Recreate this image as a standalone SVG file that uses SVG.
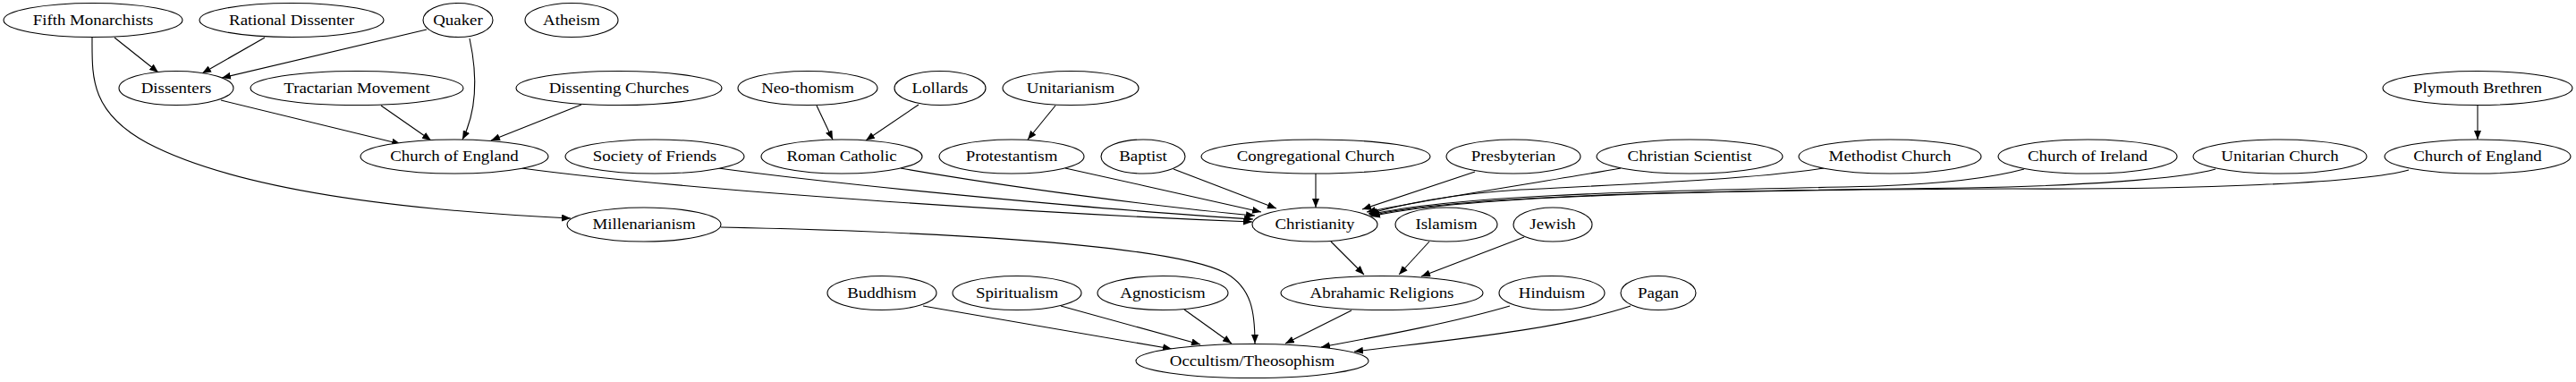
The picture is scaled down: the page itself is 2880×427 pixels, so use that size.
<svg xmlns="http://www.w3.org/2000/svg" width="2880" height="427" viewBox="0 0 2880 427">
<style>
.n ellipse{fill:#fff;stroke:#000;stroke-width:1.1}
.n text{font-family:"Liberation Serif","Times New Roman",serif;font-size:16px;text-anchor:middle;fill:#000}
.e path{fill:none;stroke:#000;stroke-width:1.1;marker-end:url(#ah)}
</style>
<defs>
<marker id="ah" markerUnits="userSpaceOnUse" markerWidth="11" markerHeight="8" refX="10" refY="4" orient="auto"><path d="M0,0 L10,4 L0,8 z" fill="#000"/></marker>
</defs>
<rect width="2880" height="427" fill="#fff"/>
<g class="e" id="edges">
<path d="M128,42 L177,81"/>
<path d="M296,42 L226,82"/>
<path d="M477,33 L248,87"/>
<path d="M525,43 C533,80 535,120 517,156"/>
<path d="M103,42 C103,85 100,125 165,160 C270,215 470,236 638,244"/>
<path d="M247,112 L448,161"/>
<path d="M426,118 L482,157"/>
<path d="M650,117 L549,157"/>
<path d="M913,118 L931,156"/>
<path d="M1027,117 L968,157"/>
<path d="M1180,118 L1149,156"/>
<path d="M2770,117 L2770,156"/>
<path d="M583,188 C760,212 1150,238 1400,248"/>
<path d="M803,188 C950,208 1250,236 1401,245"/>
<path d="M1007,188 C1120,208 1300,232 1403,241"/>
<path d="M1191,188 C1260,203 1360,226 1410,237"/>
<path d="M1312,189 L1427,233"/>
<path d="M1471,194 L1471,232"/>
<path d="M1649,192 L1523,234"/>
<path d="M1812,188 C1740,201 1600,222 1528,237"/>
<path d="M2039,188 C1960,200 1840,205 1700,212 C1620,217 1570,228 1530,239"/>
<path d="M2263,189 C2230,198 2180,205 2100,208 C1900,213 1640,215 1531,240"/>
<path d="M2477,189 C2440,200 2320,208 2200,210 C1950,213 1640,216 1532,241"/>
<path d="M2693,190 C2640,205 2450,212 2250,211 C1950,212 1640,217 1533,242"/>
<path d="M1488,270 L1525,307"/>
<path d="M1598,270 L1564,307"/>
<path d="M1704,265 L1589,309"/>
<path d="M806,254 C1000,258 1300,270 1370,305 C1400,322 1403,350 1403,384"/>
<path d="M1032,342 L1310,390"/>
<path d="M1186,342 L1342,385"/>
<path d="M1324,346 L1377,384"/>
<path d="M1511,347 L1437,384"/>
<path d="M1688,342 C1620,362 1530,378 1477,388"/>
<path d="M1823,342 C1740,370 1600,382 1514,393"/>
</g>
<g class="n" id="n_fifth"><ellipse cx="104" cy="22.5" rx="100" ry="19"/><text transform="translate(104,27.8) scale(1.18,1)">Fifth Monarchists</text></g>
<g class="n" id="n_rational"><ellipse cx="326" cy="22.5" rx="103" ry="19"/><text transform="translate(326,27.8) scale(1.18,1)">Rational Dissenter</text></g>
<g class="n" id="n_quaker"><ellipse cx="512" cy="22.5" rx="39" ry="19"/><text transform="translate(512,27.8) scale(1.18,1)">Quaker</text></g>
<g class="n" id="n_atheism"><ellipse cx="639" cy="22.5" rx="52" ry="19"/><text transform="translate(639,27.8) scale(1.18,1)">Atheism</text></g>
<g class="n" id="n_dissenters"><ellipse cx="197" cy="98.5" rx="64" ry="19"/><text transform="translate(197,103.8) scale(1.18,1)">Dissenters</text></g>
<g class="n" id="n_tractarian"><ellipse cx="399" cy="98.5" rx="119" ry="19"/><text transform="translate(399,103.8) scale(1.18,1)">Tractarian Movement</text></g>
<g class="n" id="n_dchurches"><ellipse cx="692" cy="98.5" rx="115" ry="19"/><text transform="translate(692,103.8) scale(1.18,1)">Dissenting Churches</text></g>
<g class="n" id="n_neothomism"><ellipse cx="903" cy="98.5" rx="78" ry="19"/><text transform="translate(903,103.8) scale(1.18,1)">Neo-thomism</text></g>
<g class="n" id="n_lollards"><ellipse cx="1051" cy="98.5" rx="51" ry="19"/><text transform="translate(1051,103.8) scale(1.18,1)">Lollards</text></g>
<g class="n" id="n_unitarianism"><ellipse cx="1197" cy="98.5" rx="76" ry="19"/><text transform="translate(1197,103.8) scale(1.18,1)">Unitarianism</text></g>
<g class="n" id="n_plymouth"><ellipse cx="2770" cy="98.5" rx="106" ry="19"/><text transform="translate(2770,103.8) scale(1.18,1)">Plymouth Brethren</text></g>
<g class="n" id="n_coe1"><ellipse cx="508" cy="175" rx="105" ry="19"/><text transform="translate(508,180.3) scale(1.18,1)">Church of England</text></g>
<g class="n" id="n_friends"><ellipse cx="732" cy="175" rx="100" ry="19"/><text transform="translate(732,180.3) scale(1.18,1)">Society of Friends</text></g>
<g class="n" id="n_rc"><ellipse cx="941" cy="175" rx="90" ry="19"/><text transform="translate(941,180.3) scale(1.18,1)">Roman Catholic</text></g>
<g class="n" id="n_protestantism"><ellipse cx="1131" cy="175" rx="81" ry="19"/><text transform="translate(1131,180.3) scale(1.18,1)">Protestantism</text></g>
<g class="n" id="n_baptist"><ellipse cx="1278" cy="175" rx="47" ry="19"/><text transform="translate(1278,180.3) scale(1.18,1)">Baptist</text></g>
<g class="n" id="n_congregational"><ellipse cx="1471" cy="175" rx="128" ry="19"/><text transform="translate(1471,180.3) scale(1.18,1)">Congregational Church</text></g>
<g class="n" id="n_presbyterian"><ellipse cx="1692" cy="175" rx="75" ry="19"/><text transform="translate(1692,180.3) scale(1.18,1)">Presbyterian</text></g>
<g class="n" id="n_scientist"><ellipse cx="1889" cy="175" rx="104" ry="19"/><text transform="translate(1889,180.3) scale(1.18,1)">Christian Scientist</text></g>
<g class="n" id="n_methodist"><ellipse cx="2113" cy="175" rx="102" ry="19"/><text transform="translate(2113,180.3) scale(1.18,1)">Methodist Church</text></g>
<g class="n" id="n_ireland"><ellipse cx="2334" cy="175" rx="100" ry="19"/><text transform="translate(2334,180.3) scale(1.18,1)">Church of Ireland</text></g>
<g class="n" id="n_unitarianchurch"><ellipse cx="2549" cy="175" rx="97" ry="19"/><text transform="translate(2549,180.3) scale(1.18,1)">Unitarian Church</text></g>
<g class="n" id="n_coe2"><ellipse cx="2770" cy="175" rx="104" ry="19"/><text transform="translate(2770,180.3) scale(1.18,1)">Church of England</text></g>
<g class="n" id="n_millenarianism"><ellipse cx="720" cy="251" rx="86" ry="19"/><text transform="translate(720,256.3) scale(1.18,1)">Millenarianism</text></g>
<g class="n" id="n_christianity"><ellipse cx="1470" cy="251" rx="70" ry="19"/><text transform="translate(1470,256.3) scale(1.18,1)">Christianity</text></g>
<g class="n" id="n_islamism"><ellipse cx="1617" cy="251" rx="57" ry="19"/><text transform="translate(1617,256.3) scale(1.18,1)">Islamism</text></g>
<g class="n" id="n_jewish"><ellipse cx="1736" cy="251" rx="44" ry="19"/><text transform="translate(1736,256.3) scale(1.18,1)">Jewish</text></g>
<g class="n" id="n_buddhism"><ellipse cx="986" cy="327.5" rx="61" ry="19"/><text transform="translate(986,332.8) scale(1.18,1)">Buddhism</text></g>
<g class="n" id="n_spiritualism"><ellipse cx="1137" cy="327.5" rx="72" ry="19"/><text transform="translate(1137,332.8) scale(1.18,1)">Spiritualism</text></g>
<g class="n" id="n_agnosticism"><ellipse cx="1300" cy="327.5" rx="73" ry="19"/><text transform="translate(1300,332.8) scale(1.18,1)">Agnosticism</text></g>
<g class="n" id="n_abrahamic"><ellipse cx="1545" cy="327.5" rx="113" ry="19"/><text transform="translate(1545,332.8) scale(1.18,1)">Abrahamic Religions</text></g>
<g class="n" id="n_hinduism"><ellipse cx="1735" cy="327.5" rx="59" ry="19"/><text transform="translate(1735,332.8) scale(1.18,1)">Hinduism</text></g>
<g class="n" id="n_pagan"><ellipse cx="1854" cy="327.5" rx="42" ry="19"/><text transform="translate(1854,332.8) scale(1.18,1)">Pagan</text></g>
<g class="n" id="n_occultism"><ellipse cx="1400" cy="403.5" rx="130" ry="19"/><text transform="translate(1400,408.8) scale(1.18,1)">Occultism/Theosophism</text></g>
</svg>
